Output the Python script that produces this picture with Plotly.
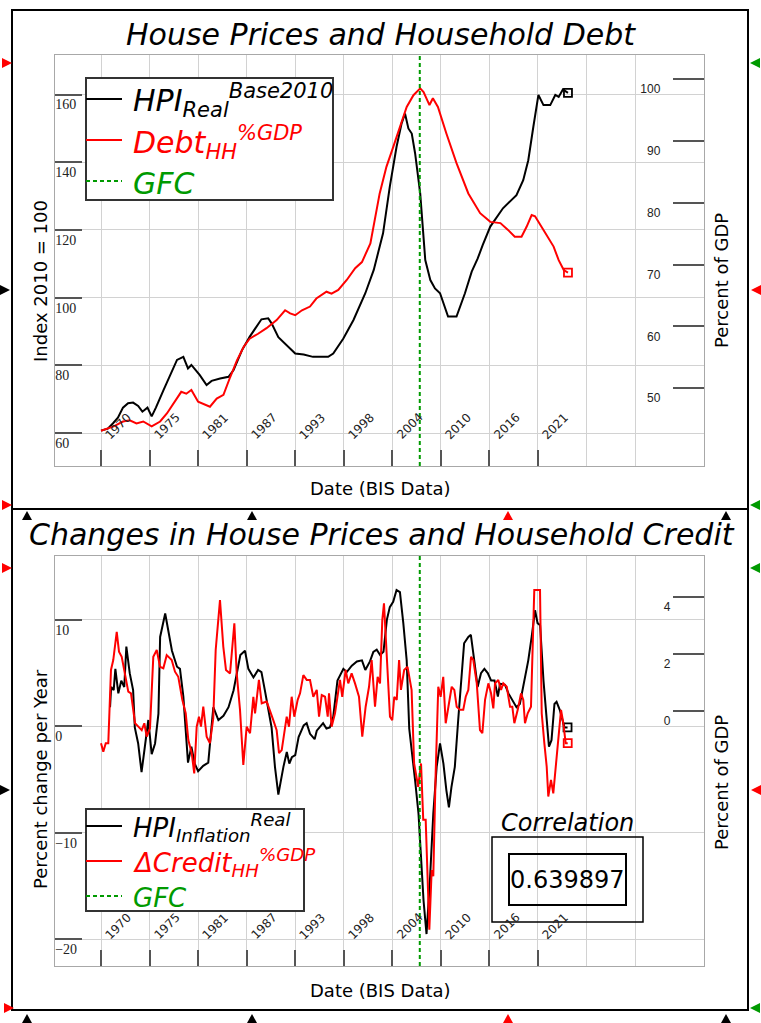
import plotly.graph_objects as go

W, H = 761, 1023

# ---- data (BIS data, years as decimals) ----
hpi_years = [1970.0, 1970.8, 1971.4, 1972.0, 1972.6, 1973.2, 1973.8, 1974.4, 1974.9, 1975.5,
             1976.0, 1976.5, 1977.4, 1978.2, 1979.0, 1979.75, 1980.3, 1980.7, 1981.7, 1982.5,
             1983.1, 1984.1, 1985.1, 1985.7, 1986.7, 1987.6, 1988.4, 1989.0, 1989.8, 1990.2,
             1991.0, 1991.8, 1993.0, 1994.0, 1995.1, 1996.9, 1997.5, 1998.7, 1999.9, 2001.3,
             2002.3, 2003.4, 2004.2, 2005.0, 2005.6, 2006.0, 2006.4, 2006.8, 2007.2, 2007.8,
             2008.4, 2009.0, 2009.55, 2010.15, 2010.7, 2011.1, 2012.1, 2013.1, 2013.9, 2014.6,
             2015.2, 2016.1, 2017.6, 2019.2, 2020.0, 2020.6, 2021.2, 2021.8, 2022.4, 2023.2,
             2023.8, 2024.2, 2024.7, 2025.3]
hpi_real = [60.7, 61.3, 62.8, 64.5, 67.5, 68.8, 69.0, 68.0, 66.3, 67.5,
            64.9, 67.5, 72.7, 77.1, 81.6, 82.5, 79.1, 80.1, 77.1, 74.2,
            75.4, 76.1, 76.6, 78.6, 84.5, 88.4, 91.4, 93.6, 93.9, 92.4,
            88.3, 86.5, 83.5, 83.2, 82.5, 82.5, 83.5, 87.9, 93.4, 101.3,
            108.2, 119.0, 132.8, 144.6, 151.5, 154.4, 150.0, 148.5, 142.6, 130.8,
            111.1, 105.2, 102.7, 101.3, 97.3, 94.4, 94.4, 101.3, 107.7, 111.5,
            115.5, 121.0, 126.4, 130.3, 134.7, 140.6, 150.5, 159.9, 156.9, 156.9,
            159.9, 159.3, 161.5, 160.5]

debt_years = [1970.0, 1971.0, 1971.5, 1972.6, 1973.4, 1974.2, 1975.0, 1976.0, 1977.0, 1977.8,
              1978.6, 1979.5, 1980.1, 1980.7, 1981.5, 1982.3, 1982.9, 1983.7, 1984.5, 1985.3,
              1986.1, 1986.9, 1987.6, 1988.6, 1989.6, 1990.8, 1991.8, 1992.4, 1993.0, 1993.8,
              1994.75, 1995.5, 1996.7, 1997.3, 1998.1, 1999.1, 2000.1, 2000.9, 2001.9, 2003.0,
              2003.8, 2004.6, 2005.4, 2006.2, 2007.0, 2007.8, 2008.2, 2008.6, 2008.9, 2009.3,
              2009.9, 2010.9, 2012.1, 2013.5, 2014.9, 2016.1, 2017.3, 2018.2, 2019.0, 2019.8,
              2020.4, 2021.0, 2021.4, 2022.4, 2023.6, 2024.2, 2024.8, 2025.3]
debt_gdp = [43.1, 43.6, 43.8, 44.6, 44.8, 44.3, 44.6, 43.8, 44.6, 45.9,
            47.5, 49.4, 49.1, 49.7, 47.8, 47.3, 47.0, 48.3, 48.9, 51.8,
            54.5, 56.7, 58.0, 58.8, 59.7, 61.0, 62.6, 62.1, 61.8, 62.6,
            63.2, 64.5, 65.6, 65.3, 65.9, 67.5, 69.4, 70.4, 73.4, 81.5,
            85.8, 89.0, 92.3, 95.5, 97.4, 98.5, 97.9, 96.6, 95.8, 96.9,
            95.5, 91.2, 86.4, 81.5, 78.3, 76.9, 76.7, 75.6, 74.5, 74.5,
            76.1, 78.0, 77.8, 75.6, 72.9, 70.7, 69.1, 68.7]

chg_hpi_years = [1971.07, 1971.2, 1971.5, 1971.7, 1972.05, 1972.4, 1972.75, 1973.0, 1973.4, 1973.8,
                 1974.0, 1974.4, 1974.8, 1975.2, 1975.6, 1976.0, 1976.4, 1976.8, 1977.0, 1977.6,
                 1978.0, 1978.4, 1979.0, 1979.35, 1979.75, 1979.9, 1980.3, 1980.7, 1981.1, 1981.5,
                 1982.1, 1982.7, 1983.3, 1983.9, 1984.5, 1985.1, 1985.7, 1986.5, 1987.05, 1987.45,
                 1988.05, 1988.6, 1989.0, 1989.4, 1990.2, 1990.6, 1991.0, 1991.6, 1992.0, 1992.3,
                 1992.6, 1993.0, 1993.4, 1994.0, 1994.35, 1994.75, 1995.3, 1995.55, 1995.9, 1996.3,
                 1996.7, 1997.1, 1997.5, 1998.0, 1998.7, 1999.1, 1999.7, 2000.3, 2000.9, 2001.3,
                 2001.85, 2002.25, 2002.65, 2003.05, 2003.45, 2003.85, 2004.2, 2004.6, 2005.0, 2005.4,
                 2005.8, 2006.2, 2006.5, 2006.8, 2007.2, 2007.6, 2007.9, 2008.2, 2008.55, 2008.95,
                 2009.35, 2009.75, 2010.15, 2010.55, 2010.9, 2011.2, 2011.5, 2011.9, 2012.3, 2012.7,
                 2013.0, 2013.5, 2013.8, 2014.2, 2014.6, 2015.0, 2015.4, 2015.8, 2016.2, 2016.6,
                 2017.0, 2017.25, 2017.85, 2018.25, 2018.6, 2019.2, 2019.6, 2020.2, 2020.6, 2021.0,
                 2021.4, 2021.7, 2022.0, 2022.4, 2022.8, 2023.05, 2023.35, 2023.7, 2023.95, 2024.35,
                 2024.75, 2024.9, 2025.25]
chg_hpi = [1.8, 3.7, 3.4, 5.4, 3.1, 4.3, 3.7, 7.5, 5.0, 3.4,
           -0.1, -1.6, -4.3, -1.9, 0.6, -2.6, -1.6, 1.2, 8.4, 10.6,
           9.0, 7.1, 5.6, 5.4, 2.8, 1.2, -3.4, -1.9, -3.5, -4.2,
           -3.7, -3.4, 1.8, 0.6, 1.0, 1.8, 3.4, 6.7, 7.1, 5.4,
           4.6, 5.3, 5.1, 3.4, -0.1, -3.8, -6.4, -3.8, -2.4, -3.5,
           -2.9, -2.7, -1.0, 0.1, 0.3, -0.7, -1.2, -0.4, -0.1, 0.3,
           -0.2, -0.1, 0.9, 4.3, 5.4, 5.1, 5.7, 6.1, 6.2, 5.3,
           6.1, 7.0, 7.2, 6.7, 7.0, 10.0, 11.2, 11.7, 12.8, 12.6,
           9.7, 6.2, -0.2, -2.6, -5.1, -8.2, -12.9, -16.4, -19.5, -14.5,
           -8.2, -3.8, -1.6, -3.5, -6.0, -7.6, -5.7, -3.8, 0.6, 5.0,
           7.8, 8.4, 8.6, 6.2, 3.7, 5.0, 5.4, 5.0, 4.3, 4.3,
           2.8, 4.0, 3.9, 3.1, 2.6, 1.8, 2.1, 4.6, 6.2, 8.4,
           10.9, 9.7, 9.5, 4.3, 0.6, -1.9, -1.3, 2.1, 2.3, 1.5,
           0.3, -0.1, -0.1]

chg_credit_years = [1970.0, 1970.27, 1970.56, 1970.86, 1971.18, 1971.45, 1971.86, 1972.13, 1972.45, 1972.83,
                    1973.23, 1973.55, 1973.83, 1974.03, 1974.42, 1974.82, 1975.13, 1975.41, 1975.8, 1976.19,
                    1976.6, 1976.99, 1977.38, 1977.78, 1978.37, 1978.76, 1979.15, 1979.63, 1980.03, 1980.34,
                    1980.74, 1981.04, 1981.33, 1981.6, 1981.84, 1982.11, 1982.51, 1982.9, 1983.29, 1983.58,
                    1984.09, 1984.48, 1984.8, 1985.28, 1985.79, 1986.07, 1986.46, 1986.85, 1987.25, 1987.65,
                    1988.04, 1988.24, 1988.7, 1989.03, 1989.62, 1990.01, 1990.4, 1990.8, 1991.08, 1991.4,
                    1991.7, 1991.99, 1992.26, 1992.58, 1992.89, 1993.29, 1993.57, 1993.96, 1994.36, 1994.75,
                    1995.14, 1995.55, 1995.82, 1996.14, 1996.53, 1996.85, 1997.0, 1997.31, 1997.71, 1998.03,
                    1998.3, 1998.57, 1998.97, 1999.28, 1999.68, 2000.08, 2000.55, 2000.94, 2001.34, 2001.74,
                    2002.05, 2002.45, 2002.76, 2003.04, 2003.31, 2003.51, 2003.75, 2004.02, 2004.22, 2004.49,
                    2004.73, 2005.02, 2005.3, 2005.52, 2005.9, 2006.3, 2006.58, 2006.78, 2007.08, 2007.37,
                    2007.56, 2007.9, 2008.16, 2008.45, 2008.64, 2008.88, 2009.16, 2009.35, 2009.63, 2009.94,
                    2010.22, 2010.53, 2010.82, 2011.13, 2011.53, 2011.84, 2012.12, 2012.51, 2012.9, 2013.19,
                    2013.5, 2013.82, 2014.09, 2014.5, 2014.88, 2015.16, 2015.48, 2015.87, 2016.19, 2016.46,
                    2016.66, 2017.05, 2017.37, 2017.64, 2018.05, 2018.44, 2018.71, 2018.95, 2019.35, 2019.74,
                    2020.01, 2020.21, 2020.53, 2020.92, 2021.31, 2021.99, 2022.19, 2022.5, 2022.78, 2022.97,
                    2023.29, 2023.56, 2023.85, 2024.16, 2024.48, 2024.75, 2025.03, 2025.27]
chg_credit = [-1.13, -1.43, -1.13, -1.13, 1.44, 1.79, 2.78, 2.08, 1.9, 1.32,
              0.68, 0.62, -0.08, -0.43, -0.55, -0.67, -0.43, -0.9, -0.61, 1.9,
              2.14, 1.55, 1.5, 1.96, 1.79, 1.38, 1.2, 0.39, -0.08, -1.02,
              -1.48, -2.19, -0.55, -0.2, -0.55, 0.15, -0.9, -1.13, -0.26, 2.14,
              3.89, 2.26, 1.44, 1.32, 3.08, 1.32, 0.04, -1.89, -0.55, -0.78,
              0.5, -0.08, 1.09, 0.27, 0.33, 0.04, -0.32, -0.67, -1.48, -1.37,
              -0.78, -0.2, -0.55, 0.5, -0.2, 0.39, 0.62, 1.26, 1.09, 1.09,
              0.5, 0.74, -0.2, 0.56, 0.5, -0.2, 0.62, -0.55, -0.08, 0.62,
              1.09, 0.5, 1.44, 0.97, 1.32, 0.97, 0.5, -0.9, 0.15, 0.85,
              1.79, 0.15, 1.2, 0.97, 3.19, 3.78, 2.49, 1.09, -0.2, -0.32,
              0.5, 0.39, 1.79, 0.74, 1.44, 1.55, 0.97, 0.74, -1.84, -2.3,
              -2.66, -1.84, -3.82, -3.82, -5.58, -7.68, -5.58, -5.8, -2.19, 0.85,
              0.5, 1.2, -0.43, 0.15, 0.85, 0.74, 0.15, 0.04, 0.04, 0.5,
              0.74, 1.9, 1.79, 0.97, -0.67, -0.78, 0.39, 0.97, 0.62, 0.09,
              0.97, 1.09, 0.74, 0.97, 0.85, 0.15, 0.15, -0.43, 0.04, 0.62,
              0.39, -0.43, -0.08, 0.15, 4.25, 4.25, -0.08, -1.13, -1.95, -3.0,
              -2.42, -2.89, -1.95, -0.9, 0.04, -0.43, -1.13, -1.13]

gfc_year = 2007.75
correlation = 0.639897

tick_years = [1970.0, 1975.75, 1981.5, 1987.25, 1993.0, 1998.75, 2004.5, 2010.25, 2016.0, 2021.75]
tick_labels = ["1970", "1975", "1981", "1987", "1993", "1998", "2004", "2010", "2016", "2021"]
extra_grid_years = [2027.5, 2033.25, 2039.0]
hpi_ticks = [60, 80, 100, 120, 140, 160]
debt_ticks = [50, 60, 70, 80, 90, 100]
chg_ticks = [-20, -10, 0, 10]
credit_ticks = [0, 2, 4]

RED = "#ff0000"
GREEN = "#009a00"
FONT = "DejaVu Sans"


def px(x):
    return x / W


def py(y):
    return 1 - y / H


def date_axis(anchor):
    return dict(domain=[px(55), px(704)], range=[1964.55, 2041.41], anchor=anchor,
                tickmode="array", tickvals=tick_years, showticklabels=False,
                ticks="inside", ticklen=16, tickwidth=1.5, tickcolor="#555",
                showgrid=True, gridcolor="#d2d2d2", gridwidth=1,
                minor=dict(tickmode="array", tickvals=extra_grid_years, showgrid=True,
                           gridcolor="#d2d2d2", gridwidth=1, ticks=""),
                showline=True, mirror=True, linecolor="#a8a8a8", linewidth=1,
                zeroline=False)


def left_axis(anchor, domain, rng, vals):
    return dict(domain=domain, range=rng, anchor=anchor, tickmode="array", tickvals=vals,
                ticks="inside", ticklen=27, tickwidth=1.5, tickcolor="#555",
                ticklabelposition="inside", ticklabelstandoff=-27, ticklabelshift=10,
                tickfont=dict(family="Liberation Serif", size=14, color="#222"),
                showgrid=True, gridcolor="#d2d2d2", gridwidth=1,
                showline=True, mirror=True, linecolor="#a8a8a8", linewidth=1,
                zeroline=False)


def right_axis(anchor, over, rng, vals, standoff):
    return dict(range=rng, anchor=anchor, overlaying=over, side="right",
                tickmode="array", tickvals=vals,
                ticks="inside", ticklen=31, tickwidth=1.5, tickcolor="#555",
                ticklabelposition="inside", ticklabelstandoff=standoff, ticklabelshift=10,
                tickfont=dict(family="Liberation Sans", size=12, color="#222"),
                showgrid=False, showline=False, zeroline=False)


fig = go.Figure()


def add_series(x, y, xa, ya, color):
    fig.add_trace(go.Scatter(x=x, y=y, xaxis=xa, yaxis=ya, mode="lines",
                             line=dict(color=color, width=2), hoverinfo="skip"))
    # open square at the last observation
    fig.add_trace(go.Scatter(x=x[-1:], y=y[-1:], xaxis=xa, yaxis=ya, mode="markers",
                             marker=dict(symbol="square-open", size=8, color=color,
                                         line=dict(width=1.8, color=color)),
                             hoverinfo="skip"))


add_series(hpi_years, hpi_real, "x", "y", "black")
add_series(debt_years, debt_gdp, "x", "y2", RED)
add_series(chg_hpi_years, chg_hpi, "x2", "y3", "black")
add_series(chg_credit_years, chg_credit, "x2", "y4", RED)

shapes = []
annotations = []

# GFC marker lines
for xr, yr in [("x", "y domain"), ("x2", "y3 domain")]:
    shapes.append(dict(type="line", xref=xr, yref=yr, x0=gfc_year, x1=gfc_year, y0=0, y1=1,
                       line=dict(color=GREEN, width=2, dash="4px,3px")))

# slanted date labels sitting on top of the bottom tick marks
for xr, yr in [("x", "y domain"), ("x2", "y3 domain")]:
    for yr_val, lab in zip(tick_years, tick_labels):
        annotations.append(dict(text=lab, x=yr_val, y=0, xref=xr, yref=yr,
                                xanchor="left", yanchor="bottom", xshift=-1, yshift=21,
                                textangle=-45, showarrow=False,
                                font=dict(family=FONT, size=12, color="#222")))


def rect(x0, y0, x1, y1, width=2, color="black", fill=None):
    shapes.append(dict(type="rect", xref="paper", yref="paper",
                       x0=px(x0), x1=px(x1), y0=py(y1), y1=py(y0),
                       line=dict(color=color, width=width),
                       fillcolor=fill if fill else "rgba(0,0,0,0)"))


def seg(x0, x1, y, color, dash="solid"):
    shapes.append(dict(type="line", xref="paper", yref="paper",
                       x0=px(x0), x1=px(x1), y0=py(y), y1=py(y),
                       line=dict(color=color, width=2, dash=dash)))


def text(s, x, y, size, color="black", italic=False, angle=0, xanchor="center"):
    annotations.append(dict(text=s, x=px(x), y=py(y), xref="paper", yref="paper",
                            xanchor=xanchor, yanchor="middle", showarrow=False, textangle=angle,
                            font=dict(family=FONT, size=size, color=color,
                                      style="italic" if italic else "normal")))


# region frames (Mathcad style)
rect(12, 10, 748, 509)
rect(12, 509, 748, 1010)

# titles
text("House Prices and Household Debt", 381, 35, 30, italic=True)
text("Changes in House Prices and Household Credit", 382, 534, 30, italic=True)

# axis titles
text("Index 2010 = 100", 40, 281, 18, angle=-90)
text("Percent of GDP", 721, 281, 18, angle=-90)
text("Date (BIS Data)", 380, 488, 18)
text("Percent change per Year", 40, 779, 18, angle=-90)
text("Percent of GDP", 721, 783, 18, angle=-90)
text("Date (BIS Data)", 380, 990, 18)

# legend, top panel
rect(86, 78, 333, 200, width=2, color="#333", fill="white")
seg(86, 122, 99, "black")
seg(86, 122, 140, RED)
seg(86, 122, 181, GREEN, dash="4px,3px")
text("HPI<sub>Real</sub><sup>Base2010</sup>", 131, 100, 30, italic=True, xanchor="left")
text("Debt<sub>HH</sub><sup>%GDP</sup>", 131, 142, 30, color=RED, italic=True, xanchor="left")
text("GFC", 131, 183, 30, color=GREEN, italic=True, xanchor="left")

# legend, bottom panel
rect(86, 809, 304, 911, width=2, color="#333", fill="white")
seg(86, 122, 826, "black")
seg(86, 122, 861, RED)
seg(86, 122, 896, GREEN, dash="4px,3px")
text("HPI<sub>Inflation</sub><sup>Real</sup>", 131, 827, 26, italic=True, xanchor="left")
text("\u0394Credit<sub>HH</sub><sup>%GDP</sup>", 131, 862, 26, color=RED, italic=True, xanchor="left")
text("GFC", 131, 898, 26, color=GREEN, italic=True, xanchor="left")

# correlation readout
text("Correlation", 567, 823, 24, italic=True)
rect(492, 837, 643, 922, width=1.5)
rect(509, 854, 626, 905, width=2)
text(f"{correlation:.6f}", 567, 880, 24)

# little region handles on the frame edges
handles = [
    (2, 63, "right", RED), (750, 63, "left", GREEN),
    (0, 290, "right", "black"), (751, 290, "left", RED),
    (2, 505, "right", RED), (750, 505, "left", GREEN),
    (2, 568, "right", RED), (750, 568, "left", GREEN),
    (0, 790, "right", "black"), (751, 790, "left", RED),
    (4, 1008, "right", RED), (750, 1008, "left", GREEN),
    (27, 511, "up", "black"), (252, 511, "up", "black"), (508, 511, "up", RED), (726, 511, "up", "black"),
    (27, 1014, "up", "black"), (252, 1014, "up", "black"), (508, 1014, "up", RED), (726, 1014, "up", "black"),
]
for hx, hy, d, c in handles:
    if d == "right":
        pts = [(hx, hy - 5), (hx + 10, hy), (hx, hy + 5)]
    elif d == "left":
        pts = [(hx + 10, hy - 5), (hx, hy), (hx + 10, hy + 5)]
    else:
        pts = [(hx - 5, hy + 9), (hx, hy), (hx + 5, hy + 9)]
    path = "M " + " L ".join(f"{px(a):.5f},{py(b):.5f}" for a, b in pts) + " Z"
    shapes.append(dict(type="path", xref="paper", yref="paper", path=path,
                       fillcolor=c, line=dict(width=0)))

fig.update_layout(
    width=W, height=H, margin=dict(l=0, r=0, t=0, b=0),
    paper_bgcolor="white", plot_bgcolor="white", showlegend=False,
    xaxis=date_axis("y"),
    yaxis=left_axis("x", [py(466), py(55)], [50.25, 171.7], hpi_ticks),
    yaxis2=right_axis("x", "y", [37.4, 103.9], debt_ticks, 12),
    xaxis2=date_axis("y3"),
    yaxis3=left_axis("x2", [py(966), py(556)], [-22.5, 16.0], chg_ticks),
    yaxis4=right_axis("x2", "y3", [-8.95, 5.44], credit_ticks, 2),
    shapes=shapes, annotations=annotations,
)

# the page's default body margin would shift the whole figure by 8px
fig.write_html("out.html", config={"displayModeBar": False},
               post_script="document.body.style.margin = '0';")
